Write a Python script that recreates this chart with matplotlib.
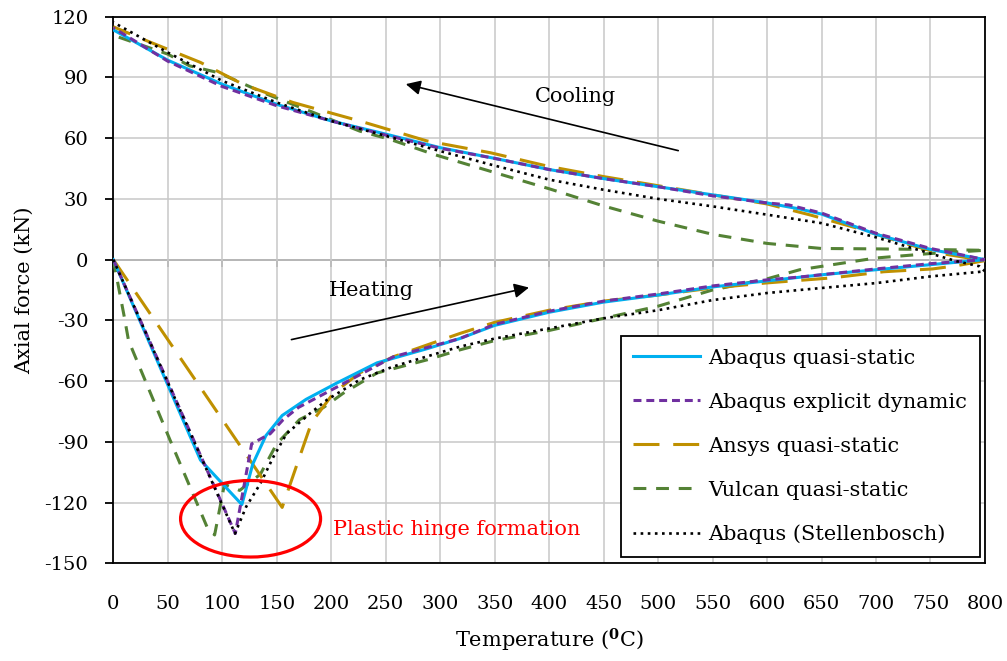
import numpy as np
import matplotlib
matplotlib.use("Agg")
import matplotlib.pyplot as plt
from matplotlib.patches import Ellipse

plt.rcParams['font.family'] = ['DejaVu Serif']
plt.rcParams['mathtext.fontset'] = 'dejavuserif'
plt.rcParams['axes.unicode_minus'] = False

# Abaqus quasi-static: heating 0 -> 800, then cooling 800 -> 0
aq_t = [0, 80, 118, 128, 140, 155, 177, 205, 242, 288, 318, 350, 400, 450, 500, 550, 600, 650, 700, 750, 800,
        750, 700, 650, 630, 600, 550, 500, 450, 400, 350, 300, 250, 200, 150, 100, 50, 0]
aq_f = [0, -99, -121, -101, -87, -77, -69, -61, -51, -44, -39, -32.5, -26, -21, -17.5, -13.5, -10.5, -7.5, -5, -2.5, 0,
        5, 12.5, 22.5, 25, 28, 32, 36, 40, 44.5, 50, 55.3, 62, 68.5, 76.7, 86.6, 98.5, 113.5]

# Abaqus explicit dynamic
ad_t = [0, 112, 127, 144, 156, 170, 184, 205, 257, 318, 350, 400, 450, 500, 550, 600, 630, 700, 750, 800,
        750, 700, 650, 620, 600, 550, 500, 450, 400, 350, 300, 250, 200, 150, 100, 50, 0]
ad_f = [0, -135.3, -91, -86, -79, -73, -69, -63, -48, -39, -32, -25.5, -20.5, -17, -13, -10, -8.6, -4.6, -2, 0,
        5.5, 13, 23, 27, 28, 31.5, 36, 40, 44.5, 50, 55, 61.5, 68.5, 76, 85.5, 98, 114.5]

# Ansys quasi-static
an_t = [0, 155, 170, 181, 184, 202, 226, 257, 318, 350, 400, 450, 500, 550, 600, 660, 707, 752, 774, 800,
        760, 725, 685, 640, 600, 550, 500, 450, 400, 346, 288, 226, 165, 119, 80, 27, 0]
an_f = [0, -122.4, -99, -82, -79, -66, -56, -48, -36.5, -31, -25, -20.5, -17.5, -14, -11.5, -9, -6, -4.6, -3, -0.5,
        3, 8.2, 15.2, 22, 27.5, 32, 36.5, 41, 46, 52.8, 58.6, 68.5, 77.6, 86.6, 97.4, 108.9, 115]

# Vulcan quasi-static
vu_t = [0, 10, 14, 52, 86, 93, 102, 116, 135, 150, 171, 193, 211, 242, 288, 318, 350, 400, 450, 500, 550, 600, 630, 700, 750, 800,
        750, 700, 650, 600, 550, 500, 450, 400, 350, 294, 254, 226, 184, 141, 96, 70, 50, 0]
vu_f = [0, -28, -40, -89, -132, -136, -111, -114, -106, -91, -79, -73, -66, -56, -49.5, -44.6, -40, -35, -29, -23, -15, -9.5, -5, 0.8, 3, 4.6,
        5, 5.3, 5.5, 8, 12.5, 19, 26.5, 35, 43, 52, 59.4, 63.5, 72.6, 81.7, 92.4, 95.7, 101.5, 110.8]

# Abaqus (Stellenbosch)
st_t = [0, 111.7, 122, 135, 147, 159, 180.5, 196, 226, 257, 318, 350, 400, 450, 500, 550, 600, 630, 700, 750, 800,
        795, 774, 750, 700, 650, 600, 550, 500, 450, 400, 346, 300, 250, 200, 150, 100, 50, 0]
st_f = [0, -135.3, -122, -110.6, -97.4, -86, -76, -69.3, -59.4, -52.8, -43, -39, -34, -29, -25, -20, -16.5, -15, -11.6, -8.3, -5.8,
        -3.3, -0.8, 3, 11, 18, 22.2, 26.3, 30, 34.5, 39.5, 47, 53.6, 61.1, 68.5, 77.6, 88.3, 102.3, 117.2]

x_ticks = np.arange(0, 801, 50)
y_ticks = np.arange(-150, 121, 30)

fig = plt.figure(figsize=(10.07, 6.61), dpi=100)
ax = fig.add_axes([0.1125, 0.1478, 0.8656, 0.827])

ax.plot(aq_t, aq_f, color='#00B0F0', lw=2.2, ls='-', label='Abaqus quasi-static', zorder=5)
ax.plot(ad_t, ad_f, color='#7030A0', lw=2.2, ls=(0, (2.6, 1.6)), label='Abaqus explicit dynamic', zorder=6)
ax.plot(an_t, an_f, color='#BF9000', lw=2.2, ls=(0, (8.5, 4.5)), label='Ansys quasi-static', zorder=4)
ax.plot(vu_t, vu_f, color='#548235', lw=2.2, ls=(0, (4.2, 3.2)), label='Vulcan quasi-static', zorder=3)
ax.plot(st_t, st_f, color='black', lw=1.9, ls=(0, (1, 1.7)), label='Abaqus (Stellenbosch)', zorder=7)

ax.set_xlim(0, 800)
ax.set_ylim(-150, 120)
ax.set_xticks(x_ticks)
ax.set_yticks(y_ticks)
ax.grid(True, color='#C8C8C8', lw=1.1)
ax.set_axisbelow(True)

for s in ax.spines.values():
    s.set_color('black')
    s.set_linewidth(1.3)

ax.tick_params(axis='x', length=0, pad=23, labelsize=14)
ax.tick_params(axis='y', length=6, width=1.3, direction='out', pad=12, labelsize=14)

# axis line at y = 0 with tick marks
sec = ax.secondary_xaxis(150 / 270)
sec.set_xticks(x_ticks)
sec.tick_params(direction='in', length=5, width=1.2, color='#808080', labeltop=False, labelbottom=False)
for s in sec.spines.values():
    s.set_color('#808080')
    s.set_linewidth(1.4)

ax.set_xlabel('Temperature ($^{\\mathbf{0}}$C)', fontsize=15, labelpad=10)
ax.set_ylabel('Axial force (kN)', fontsize=15, labelpad=8)

ax.annotate('', xy=(266, 87), xytext=(521, 53.5),
            arrowprops=dict(arrowstyle='-|>', color='black', lw=1.2, mutation_scale=22))
ax.annotate('', xy=(384, -13.5), xytext=(161, -39.8),
            arrowprops=dict(arrowstyle='-|>', color='black', lw=1.2, mutation_scale=22))
ax.text(424.5, 80.7, 'Cooling', fontsize=15, ha='center', va='center')
ax.text(237, -15.3, 'Heating', fontsize=15, ha='center', va='center')
ax.text(201.6, -133.2, 'Plastic hinge formation', fontsize=15, color='#FF0000', ha='left', va='center')

ax.add_patch(Ellipse((126, -128), 128.5, 37.8, fill=False, edgecolor='#FF0000', lw=2.3, zorder=8))

leg = ax.legend(loc='lower right', bbox_to_anchor=(0.994, 0.012), borderaxespad=0, fontsize=15,
                handlelength=3.2, handletextpad=0.4, labelspacing=1.2, borderpad=0.6,
                fancybox=False, framealpha=1, edgecolor='black')
leg.get_frame().set_linewidth(1.3)
leg.set_zorder(10)

fig.savefig('out.png', dpi=100)
